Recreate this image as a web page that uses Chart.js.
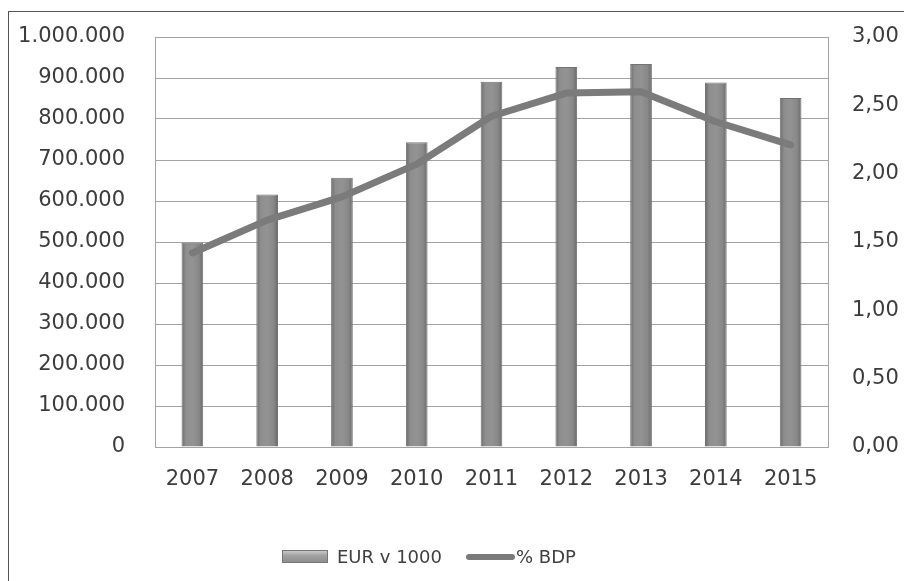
<!DOCTYPE html>
<html>
<head>
<meta charset="utf-8">
<script src="https://cdn.jsdelivr.net/npm/chart.js@4.4.1/dist/chart.umd.min.js"></script>
<style>
  html, body { margin: 0; padding: 0; background: #fff; }
  #wrap { position: relative; width: 904px; height: 581px; overflow: hidden; }
  #frame { position: absolute; left: 8px; top: 11px; width: 1000px; height: 700px;
           border-left: 1px solid #555; border-top: 1px solid #555; }
  #chart { position: absolute; left: 0; top: 0; }
  #legend { position: absolute; left: 0; top: 545px; width: 904px; height: 24px;
            font-family: "DejaVu Sans", Verdana, sans-serif; font-size: 18px; color: #404040; }
  .item { position: absolute; top: 0; line-height: 24px; white-space: nowrap; }
  .barkey { position: absolute; top: 5px; width: 46px; height: 13px; border: 1px solid #777;
            box-sizing: border-box;
            background: linear-gradient(to bottom, #c9c9c9 0%, #a2a2a2 40%, #8e8e8e 100%); }
  .linekey { position: absolute; top: 9px; width: 49px; height: 6px; border-radius: 3px; background: #7b7b7b; }
</style>
</head>
<body>
<div id="wrap">
  <div id="frame"></div>
  <canvas id="chart" width="904" height="581"></canvas>
  <div id="legend">
    <span class="barkey" style="left:282px"></span>
    <span class="item" style="left:337px">EUR v 1000</span>
    <span class="linekey" style="left:466px"></span>
    <span class="item" style="left:516px">% BDP</span>
  </div>
</div>
<script>
// ─── Data ────────────────────────────────────────────────────────────────────
const YEARS   = ['2007', '2008', '2009', '2010', '2011', '2012', '2013', '2014', '2015'];
const EUR_K   = [498000, 616000, 657000, 743000, 891000, 927000, 934000, 889000, 851000];
const PCT_BDP = [1.42, 1.66, 1.83, 2.07, 2.42, 2.59, 2.60, 2.38, 2.21];

const LEFT_MAX  = 1000000;
const LEFT_STEP = 100000;
const RIGHT_MAX  = 3;
const RIGHT_STEP = 0.5;

const FONT = { family: '"DejaVu Sans", Verdana, sans-serif', size: 21 };
const TEXT = '#3c3c3c';
const GRID = '#a3a3a3';
const NONE = 'rgba(0,0,0,0)';
const BAR_PCT = 0.29;

function fmtThousands(v) {
  return String(Math.round(v)).replace(/\B(?=(\d{3})+(?!\d))/g, '.');
}
function fmtComma(v) {
  return Number(v).toFixed(2).replace('.', ',');
}

// cylinder-like shading across each bar
function barFill(c) {
  const chart = c.chart;
  const xs = chart.scales && chart.scales.x;
  if (!chart.chartArea || !xs) return '#8a8a8a';
  const cx = xs.getPixelForValue(c.dataIndex);
  const half = (chart.chartArea.width / YEARS.length) * BAR_PCT / 2;
  const g = chart.ctx.createLinearGradient(cx - half, 0, cx + half, 0);
  g.addColorStop(0, '#6a6a6a');
  g.addColorStop(0.2, '#8e8e8e');
  g.addColorStop(0.5, '#939393');
  g.addColorStop(0.8, '#888888');
  g.addColorStop(1, '#686868');
  return g;
}

const ctx = document.getElementById('chart').getContext('2d');

new Chart(ctx, {
  data: {
    labels: YEARS,
    datasets: [
      {
        type: 'line',
        label: '% BDP',
        data: PCT_BDP,
        yAxisID: 'y2',
        borderColor: '#7b7b7b',
        borderWidth: 7,
        borderCapStyle: 'round',
        borderJoinStyle: 'round',
        pointRadius: 0,
        tension: 0,
        order: 0
      },
      {
        type: 'bar',
        label: 'EUR v 1000',
        data: EUR_K,
        yAxisID: 'y',
        backgroundColor: barFill,
        borderColor: '#737373',
        borderWidth: 1,
        barPercentage: BAR_PCT,
        categoryPercentage: 1,
        order: 1
      }
    ]
  },
  options: {
    responsive: false,
    animation: false,
    devicePixelRatio: 1,
    layout: { padding: { top: 37, right: 0, bottom: 0, left: 0 } },
    scales: {
      x: {
        grid: { display: false, drawTicks: false },
        border: { display: true, color: GRID, width: 1 },
        ticks: { font: FONT, color: TEXT, padding: 20, maxRotation: 0 },
        afterFit: (s) => { s.height = 134; }
      },
      y: {
        position: 'left',
        min: 0,
        max: LEFT_MAX,
        grid: { color: GRID, lineWidth: 1, drawTicks: true, tickLength: 30, tickColor: NONE },
        border: { display: true, color: GRID, width: 1 },
        ticks: {
          stepSize: LEFT_STEP,
          font: FONT,
          color: TEXT,
          padding: 0,
          callback: (v) => fmtThousands(v)
        },
        afterFit: (s) => { s.width = 155; }
      },
      y2: {
        position: 'right',
        min: 0,
        max: RIGHT_MAX,
        grid: { color: NONE, drawTicks: true, tickLength: 24, tickColor: NONE },
        border: { display: true, color: GRID, width: 1 },
        ticks: {
          stepSize: RIGHT_STEP,
          font: FONT,
          color: TEXT,
          padding: 0,
          callback: (v) => fmtComma(v)
        },
        afterFit: (s) => { s.width = 76; }
      }
    },
    plugins: {
      legend: { display: false },
      tooltip: { enabled: false }
    }
  }
});
</script>
</body>
</html>
